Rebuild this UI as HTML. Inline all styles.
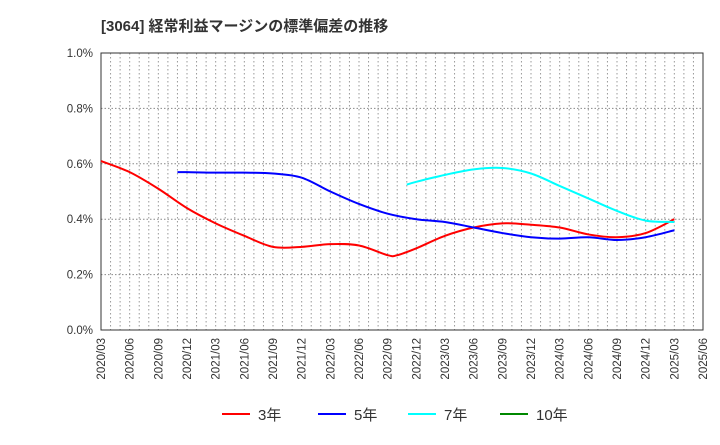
<!DOCTYPE html>
<html><head><meta charset="utf-8"><style>
body{margin:0;background:#fff;font-family:"Liberation Sans","Noto Sans CJK JP",sans-serif}
svg text{font-family:"Liberation Sans","Noto Sans CJK JP",sans-serif}
</style></head><body>
<svg id="c" width="720" height="440">
<text x="101" y="31" font-size="15" font-weight="bold" fill="#333">[3064]  経常利益マージンの標準偏差の推移</text>
<g id="grid"></g><g id="axes"></g><g id="lines"></g><g id="legend"></g>
</svg>
<script>
const xLabels=["2020/03","2020/06","2020/09","2020/12","2021/03","2021/06","2021/09","2021/12","2022/03","2022/06","2022/09","2022/12","2023/03","2023/06","2023/09","2023/12","2024/03","2024/06","2024/09","2024/12","2025/03","2025/06"];
const yTicks=[0,0.2,0.4,0.6,0.8,1.0];
// month index from 2020/03
const s3Months=[0,3,6,9,12,15,18,21,24,27,30,31,33,36,39,42,45,48,51,54,57,60];
const s3=[0.61,0.57,0.51,0.44,0.385,0.34,0.30,0.30,0.31,0.305,0.27,0.27,0.295,0.34,0.37,0.385,0.38,0.37,0.345,0.335,0.35,0.40];
const s5Months=[8,9,12,15,18,21,24,27,30,33,36,39,42,45,48,51,54,57,60];
const s5=[0.57,0.57,0.568,0.568,0.565,0.55,0.50,0.455,0.42,0.40,0.39,0.37,0.35,0.335,0.33,0.335,0.325,0.335,0.36];
const s7Months=[32,33,36,39,42,45,48,51,54,57,60];
const s7=[0.525,0.535,0.56,0.58,0.585,0.565,0.52,0.475,0.43,0.395,0.39];
const s10=[];
const X0=101,X1=703,Y0=330,Y1=53,NM=63;
const xs=m=>X0+m*(X1-X0)/NM, ys=v=>Y0-v*(Y0-Y1)/1.0;
const NS="http://www.w3.org/2000/svg";
function mk(t,a,p){const e=document.createElementNS(NS,t);for(const k in a)e.setAttribute(k,a[k]);p.appendChild(e);return e;}
const g=document.getElementById('grid'),ax=document.getElementById('axes'),ln=document.getElementById('lines'),lg=document.getElementById('legend');
for(let m=1;m<NM;m++){const l=mk('line',{x1:xs(m),x2:xs(m),y1:Y1,y2:Y0,stroke:'#999','stroke-dasharray':'1.5,2.5','stroke-width':1},g);

}
yTicks.forEach(v=>{if(v>0&&v<1){const l=mk('line',{x1:X0,x2:X1,y1:ys(v),y2:ys(v),stroke:'#888','stroke-dasharray':'1.5,2','stroke-width':1},g);

}
const t=mk('text',{x:X0-8,y:ys(v)+4,'text-anchor':'end','font-size':11.5,fill:'#333'},ax);t.textContent=v.toFixed(1)+'%';

});
const fr=mk('rect',{x:X0,y:Y1,width:X1-X0,height:Y0-Y1,fill:'none',stroke:'#333','stroke-width':1},ax);


xLabels.forEach((s,i)=>{const x=xs(i*3)+4,y=Y0+8;const t=mk('text',{x:x,y:y,transform:`rotate(-90 ${x} ${y})`,'text-anchor':'end','font-size':11.5,fill:'#333'},ax);t.textContent=s;

});
function path(vals,months){const p=vals.map((v,i)=>[xs(months[i]),ys(v)]);let d=`M${p[0][0]},${p[0][1]}`;
for(let i=0;i<p.length-1;i++){const a=p[i-1]||p[i],b=p[i],c=p[i+1],e=p[i+2]||c;
d+=` C${b[0]+(c[0]-a[0])/6},${b[1]+(c[1]-a[1])/6} ${c[0]-(e[0]-b[0])/6},${c[1]-(e[1]-b[1])/6} ${c[0]},${c[1]}`;}return d;}
[[s3,s3Months,'#f00','line-3yr'],[s5,s5Months,'#00f','line-5yr'],[s7,s7Months,'#0ff','line-7yr']].forEach(([v,s,c,n])=>{
const p=mk('path',{d:path(v,s),fill:'none',stroke:c,'stroke-width':2},ln);

});
[['3年','#f00',222],['5年','#00f',318],['7年','#0ff',408],['10年','#080',500]].forEach(([t,c,x])=>{
const l=mk('line',{x1:x,x2:x+28,y1:414,y2:414,stroke:c,'stroke-width':2},lg);


const tx=mk('text',{x:x+36,y:420,'font-size':15,fill:'#333'},lg);tx.textContent=t;

});
</script>
</body></html>
